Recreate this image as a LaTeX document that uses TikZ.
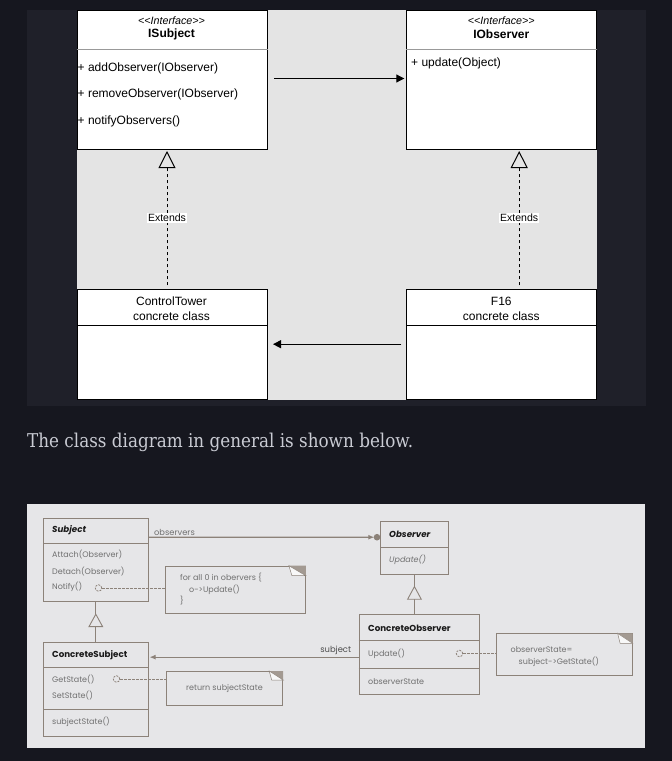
\documentclass[tikz,border=0pt]{standalone}
\usepackage{fontspec}
\setmainfont{Liberation Sans}
\newfontfamily\serifb{DejaVu Serif}
\newfontfamily\geo{Poppins}
\usetikzlibrary{arrows.meta,calc}
\definecolor{pagebg}{HTML}{16171F}
\definecolor{panelbg}{HTML}{1F2029}
\definecolor{lgray}{HTML}{E4E4E4}
\definecolor{bpanel}{HTML}{E6E6E8}
\definecolor{brn}{HTML}{8C8279}
\definecolor{txtg}{HTML}{707070}
\definecolor{foldc}{HTML}{A39A92}
\definecolor{headtxt}{HTML}{C9CBD3}
\newcommand{\stereo}{<\kern0pt<\kern0pt Interface>\kern0pt>}
\begin{document}
\begin{tikzpicture}[x=1pt,y=-1pt,
 topbox/.style={draw=black, fill=white, line width=1pt, rectangle, inner sep=0pt, anchor=north west},
 ttxt/.style={font=\fontsize{12}{14}\selectfont, inner sep=0pt, text=black},
 mtxt/.style={ttxt, anchor=west},
 gbox/.style={draw=brn, fill=bpanel, line width=0.9pt, rectangle, inner sep=0pt, anchor=north west},
 gdiv/.style={draw=brn, line width=0.9pt},
 gtitle/.style={font=\geo\bfseries\fontsize{8.7}{10}\selectfont, anchor=west, inner sep=0pt, text=black!90},
 gtxt/.style={font=\geo\fontsize{8}{9}\selectfont, text=txtg, anchor=west, inner sep=0pt},
 conn/.style={draw=brn, line width=1.1pt},
 dconn/.style={draw=brn, line width=0.8pt, dash pattern=on 2.5pt off 1.5pt},
 dcirc/.style={circle, draw=brn, dash pattern=on 2pt off 1.2pt, minimum size=6.5pt, inner sep=0pt, line width=0.8pt},
 foldtri/.style={fill=foldc},
 foldflap/.style={fill=white!70!bpanel, draw=brn, line width=0.5pt},
]
\fill[pagebg] (0,0) rectangle (672,761);
\useasboundingbox (0,0) rectangle (672,761);
% ---------- top panel ----------
\fill[panelbg] (27,9.5) rectangle (645.5,406);
\fill[lgray] (76.5,9.5) rectangle (597,399.5);

\node[topbox, minimum width=190pt, minimum height=139.5pt] (isub) at (76.5,9.5) {};
\draw[black!40, line width=0.8pt] ([yshift=-39.5pt]isub.north west) -- ([yshift=-39.5pt]isub.north east);
\node[ttxt, font=\itshape\fontsize{10.7}{12}\selectfont] (isubst) at (171.5,20.5) {\stereo};
\node[ttxt, font=\bfseries\fontsize{12}{14}\selectfont] (isubname) at (171.5,34.5) {ISubject};
\node[mtxt] (m1) at (77.5,68.5) {+ addObserver(IObserver)};
\node[mtxt] (m2) at (77.5,94.5) {+ removeObserver(IObserver)};
\node[mtxt] (m3) at (77.5,121) {+ notifyObservers()};

\node[topbox, minimum width=190pt, minimum height=139.5pt] (iobs) at (406.3,9.5) {};
\draw[black!40, line width=0.8pt] ([yshift=-39.5pt]iobs.north west) -- ([yshift=-39.5pt]iobs.north east);
\node[ttxt, font=\itshape\fontsize{10.7}{12}\selectfont] (iobsst) at (501.3,20.5) {\stereo};
\node[ttxt, font=\bfseries\fontsize{12}{14}\selectfont] (iobsname) at (501.3,34.5) {IObserver};
\node[mtxt] (m4) at (411,63) {+ update(Object)};

\node[topbox, minimum width=190pt, minimum height=110pt] (ct) at (76.5,289.3) {};
\draw[black, line width=1pt] ([yshift=-36.4pt]ct.north west) -- ([yshift=-36.4pt]ct.north east);
\node[ttxt] (ctn) at (171.5,301.5) {ControlTower};
\node[ttxt] (ctc) at (171.5,315.8) {concrete class};

\node[topbox, minimum width=190pt, minimum height=110pt] (f16) at (406.3,289.3) {};
\draw[black, line width=1pt] ([yshift=-36.4pt]f16.north west) -- ([yshift=-36.4pt]f16.north east);
\node[ttxt] (f16n) at (501.3,301.5) {F16};
\node[ttxt] (f16c) at (501.3,315.8) {concrete class};

\draw[line width=1pt, -{Triangle[length=8pt,width=8pt]}] ([xshift=6.5pt,yshift=1.25pt]isub.east) -- ([xshift=-2pt,yshift=1.25pt]iobs.west);
\draw[line width=1pt, -{Triangle[length=8pt,width=8pt]}] ([xshift=-5pt,yshift=0.6pt]f16.west) -- ([xshift=5.5pt,yshift=0.6pt]ct.east);

\draw[line width=1pt, dash pattern=on 3pt off 3pt, -{Triangle[open,length=17pt,width=17pt]}]
  ([xshift=-5pt,yshift=4pt]ct.north) -- node[pos=0.5, fill=white, inner sep=1pt, font=\fontsize{10.5}{12}\selectfont] (ext1) {Extends} ([xshift=-5pt,yshift=-1pt]isub.south);
\draw[line width=1pt, dash pattern=on 3pt off 3pt, -{Triangle[open,length=17pt,width=17pt]}]
  ([xshift=17.4pt,yshift=4pt]f16.north) -- node[pos=0.5, fill=white, inner sep=1pt, font=\fontsize{10.5}{12}\selectfont] (ext2) {Extends} ([xshift=17.4pt,yshift=-1pt]iobs.south);

% ---------- heading ----------
\node[anchor=base west, inner sep=0pt, font=\serifb\fontsize{19}{22}\selectfont, text=headtxt] (head) at (27,447) {\resizebox{386pt}{\height}{The class diagram in general is shown below.}};

% ---------- bottom panel ----------
\fill[bpanel] (27,504.3) rectangle (645,748.3);

% Subject
\node[gbox, minimum width=104.7pt, minimum height=83pt] (sub) at (43,517.7) {};
\draw[gdiv] ([yshift=-25.6pt]sub.north west) -- ([yshift=-25.6pt]sub.north east);
\node[gtitle, font=\geo\bfseries\itshape\fontsize{8.7}{10}\selectfont] (subt) at (52,530.5) {Subject};
\node[gtxt] (s1) at (52,555) {Attach(Observer)};
\node[gtxt] (s2) at (52,571) {Detach(Observer)};
\node[gtxt] (s3) at (52,587) {Notify()};
\node[dcirc] (c1) at (98.5,588) {};

% note 1
\node[gbox, minimum width=140pt, minimum height=47.6pt] (n1) at (165,565.7) {};
\fill[foldtri] ([xshift=-17pt]n1.north east) -- (n1.north east) -- ([yshift=-10pt]n1.north east) -- cycle;
\filldraw[foldflap] ([xshift=-17pt]n1.north east) -- ([yshift=-10pt]n1.north east) -- ([xshift=-14pt,yshift=-10pt]n1.north east) -- cycle;
\node[gtxt] (n1a) at (180,578) {for all 0 in obervers \{};
\node[gtxt] (n1b) at (189,589.5) {o-\kern0pt>Update()};
\node[gtxt] (n1c) at (180,601) {\}};
\draw[dconn] (c1) -- (c1 -| n1.west);

% Observer
\node[gbox, minimum width=67.4pt, minimum height=52.7pt] (obs) at (380.3,521) {};
\draw[gdiv] ([yshift=-26pt]obs.north west) -- ([yshift=-26pt]obs.north east);
\node[gtitle, font=\geo\bfseries\itshape\fontsize{8.7}{10}\selectfont] (obst) at (389,534.5) {Observer};
\node[gtxt, font=\geo\itshape\fontsize{8}{9}\selectfont] (o1) at (389,559.5) {Update()};

% ConcreteObserver
\node[gbox, minimum width=120.3pt, minimum height=80pt] (cobs) at (358.7,614.3) {};
\draw[gdiv] ([yshift=-26.4pt]cobs.north west) -- ([yshift=-26.4pt]cobs.north east);
\draw[gdiv] ([yshift=-53.7pt]cobs.north west) -- ([yshift=-53.7pt]cobs.north east);
\node[gtitle] (cobst) at (368,628.5) {ConcreteObserver};
\node[gtxt] (co1) at (368,653.5) {Update()};
\node[gtxt] (co2) at (368,681.5) {observerState};
\node[dcirc] (c3) at (459.5,653.5) {};

% note 3
\node[gbox, minimum width=135.7pt, minimum height=42pt] (n3) at (496,633.3) {};
\fill[foldtri] ([xshift=-15pt]n3.north east) -- (n3.north east) -- ([yshift=-10pt]n3.north east) -- cycle;
\filldraw[foldflap] ([xshift=-15pt]n3.north east) -- ([yshift=-10pt]n3.north east) -- ([xshift=-12.5pt,yshift=-10pt]n3.north east) -- cycle;
\node[gtxt] (n3a) at (510.5,650) {observerState=};
\node[gtxt] (n3b) at (518.5,661.5) {subject-\kern0pt>GetState()};
\draw[dconn] (c3) -- (c3 -| n3.west);

% ConcreteSubject
\node[gbox, minimum width=104.7pt, minimum height=94pt] (csub) at (43,641.7) {};
\draw[gdiv] ([yshift=-25.6pt]csub.north west) -- ([yshift=-25.6pt]csub.north east);
\draw[gdiv] ([yshift=-67.6pt]csub.north west) -- ([yshift=-67.6pt]csub.north east);
\node[gtitle] (csubt) at (52,655.5) {ConcreteSubject};
\node[gtxt] (cs1) at (52,679.5) {GetState()};
\node[gtxt] (cs2) at (52,695.5) {SetState()};
\node[gtxt] (cs3) at (52,722) {subjectState()};
\node[dcirc] (c2) at (116.5,679) {};

% note 2
\node[gbox, minimum width=116.6pt, minimum height=34pt] (n2) at (165.7,671) {};
\fill[foldtri] ([xshift=-14pt]n2.north east) -- (n2.north east) -- ([yshift=-9pt]n2.north east) -- cycle;
\filldraw[foldflap] ([xshift=-14pt]n2.north east) -- ([yshift=-9pt]n2.north east) -- ([xshift=-11.5pt,yshift=-9pt]n2.north east) -- cycle;
\node[gtxt, anchor=center] (n2a) at (224.5,688.5) {return subjectState};
\draw[dconn] (c2) -- (c2 -| n2.west);

% generalisations
\draw[conn, line width=0.9pt] (sub.south) -- (csub.north);
\filldraw[conn, line width=0.9pt, fill=bpanel] ([yshift=-12.6pt]sub.south) -- ([xshift=-6.8pt,yshift=-25pt]sub.south) -- ([xshift=6.8pt,yshift=-25pt]sub.south) -- cycle;
\draw[conn, line width=0.9pt] (obs.south) -- (obs.south |- cobs.north);
\filldraw[conn, line width=0.9pt, fill=bpanel] ([yshift=-12pt]obs.south) -- ([xshift=-6.8pt,yshift=-24.6pt]obs.south) -- ([xshift=6.8pt,yshift=-24.6pt]obs.south) -- cycle;

% associations
\draw[conn, -{Latex[length=6pt,width=5pt]}] ([yshift=22.4pt]sub.east) -- node[pos=0.0, anchor=south west, xshift=5pt, yshift=1.5pt, inner sep=0pt, font=\geo\fontsize{8.3}{9}\selectfont, text=txtg] (lobs) {observers} ([xshift=-6pt,yshift=10.6pt]obs.west);
\fill[brn] ([xshift=-3.3pt,yshift=10.6pt]obs.west) circle (3.3pt);
\draw[conn, -{Latex[length=6pt,width=5pt]}] ([yshift=-2.4pt]cobs.west) -- node[pos=0.0, anchor=south east, xshift=-7pt, yshift=2pt, inner sep=0pt, font=\geo\fontsize{8.4}{9}\selectfont, text=black!70] (lsub) {subject} ([xshift=1pt,yshift=32pt]csub.east);
\end{tikzpicture}
\end{document}
